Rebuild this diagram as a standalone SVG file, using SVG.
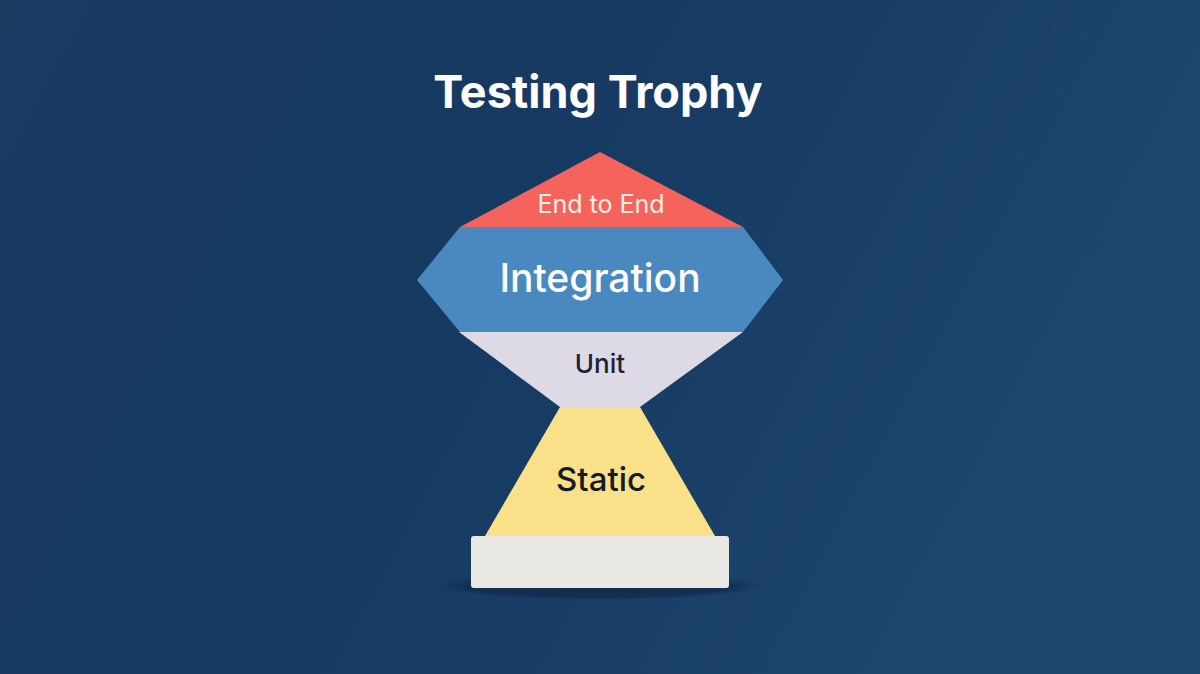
<svg xmlns="http://www.w3.org/2000/svg" width="1200" height="674" viewBox="0 0 1200 674">
  <defs>
    <linearGradient id="bg" x1="0" y1="0" x2="1" y2="0.3">
      <stop offset="0" stop-color="#1a3a60"/>
      <stop offset="0.5" stop-color="#163a61"/>
      <stop offset="1" stop-color="#1e466f"/>
    </linearGradient>
    <radialGradient id="shadow" cx="0.5" cy="0.5" r="0.5">
      <stop offset="0" stop-color="#10294a" stop-opacity="0.95"/>
      <stop offset="0.8" stop-color="#10294a" stop-opacity="0.7"/>
      <stop offset="1" stop-color="#10294a" stop-opacity="0"/>
    </radialGradient>
    <style>
      .lbl { font-family: Inter, "Noto Sans", "Liberation Sans", sans-serif; text-anchor: middle; }
      .title { font-family: Inter, "Noto Sans", "Liberation Sans", sans-serif; font-weight: 700; font-size: 45px; fill: #ffffff; text-anchor: middle; }
    </style>
  </defs>
  <rect width="1200" height="674" fill="url(#bg)"/>
  <text class="title" x="598" y="108">Testing Trophy</text>

  <g id="base">
    <ellipse cx="600" cy="586" rx="162" ry="14" fill="url(#shadow)"/>
    <rect x="471" y="536" width="258" height="52" rx="3" fill="#e9e8e4"/>
  </g>
  <g id="static">
    <polygon points="560,407 640,407 715,536 485,536" fill="#fbe08a"/>
    <text class="lbl" x="601" y="491" font-size="33" font-weight="500" fill="#141a26">Static</text>
  </g>
  <g id="unit">
    <polygon points="459,332 743,332 640,407 560,407" fill="#dddae6"/>
    <text class="lbl" x="600" y="373" font-size="26" font-weight="500" fill="#1c2236">Unit</text>
  </g>
  <g id="integration">
    <polygon points="460,227 743,227 783,280 743,332 460,332 417,280" fill="#4a88c0"/>
    <text class="lbl" x="600" y="292" font-size="39" font-weight="500" fill="#ffffff">Integration</text>
  </g>
  <g id="e2e">
    <polygon points="600,152 743,227 460,227" fill="#f4645c"/>
    <text class="lbl" x="601" y="213" font-size="25" font-weight="400" fill="#fdf0ea">End to End</text>
  </g>
  <g id="connectors"/>
</svg>
